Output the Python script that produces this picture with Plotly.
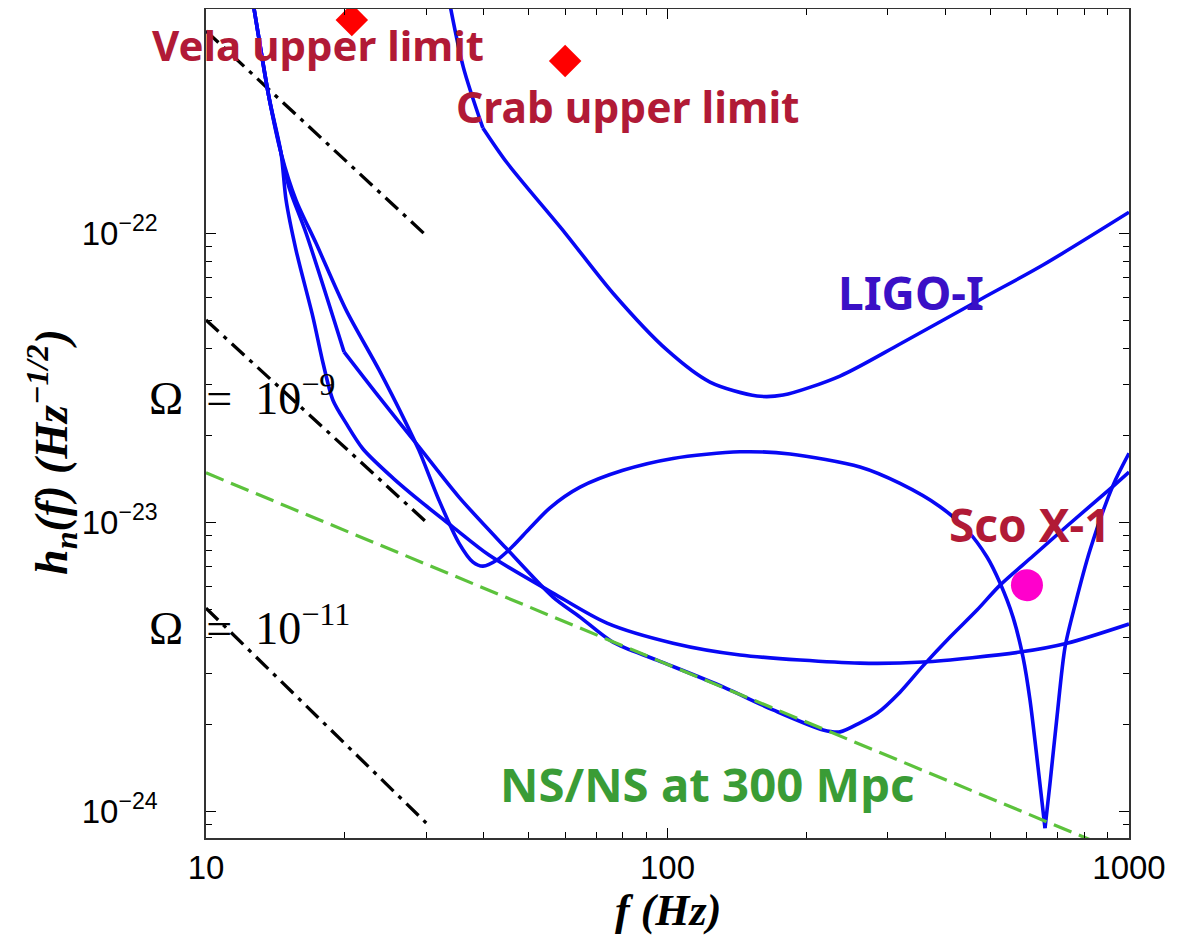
import plotly.graph_objects as go

# ---------------- data (f in Hz, h in Hz^-1/2) ----------------
omega_f = [10, 30]
omega7_h = [5.0e-22, 9.8e-23]
omega9_h = [5.0e-23, 1.0e-23]
omega11_h = [5.04e-24, 9.1e-25]

nsns_f = [10, 1000]
nsns_h = [1.48e-23, 7.0e-25]

ligo1_f = [33.4, 36.1, 39.8, 44.9, 60.0, 76.2, 99.7, 123.6, 156.3, 178.0, 236.5, 319.0, 482.6, 651.0, 1000.0]
ligo1_h = [6.76e-22, 3.75e-22, 2.31e-22, 1.75e-22, 1.0e-22, 6.19e-23, 3.94e-23, 3.05e-23, 2.73e-23, 2.75e-23,
           3.20e-23, 4.13e-23, 5.96e-23, 7.75e-23, 1.18e-22]

broad_f = [12.45, 12.71, 13.69, 14.54, 14.91, 15.67, 17.05, 17.93, 18.84, 20.11, 21.89, 25.42, 29.53, 34.29,
           41.04, 56.48, 73.94, 102.8, 143.6, 261.3, 357.8, 580.5, 734.0, 1000.0]
broad_h = [7.21e-22, 5.96e-22, 2.95e-22, 1.89e-22, 1.30e-22, 8.73e-23, 5.12e-23, 3.55e-23, 2.64e-23, 2.20e-23,
           1.79e-23, 1.42e-23, 1.16e-23, 9.61e-24, 7.69e-24, 5.68e-24, 4.47e-24, 3.81e-24, 3.47e-24, 3.25e-24,
           3.28e-24, 3.55e-24, 3.81e-24, 4.44e-24]

nsopt_f = [12.45, 12.71, 13.69, 14.54, 15.13, 16.47, 19.91, 23.71, 28.94, 35.33, 44.67, 56.48, 64.64, 76.18,
           94.89, 131.9, 169.3, 217.3, 236.5, 261.3, 284.4, 319.0, 357.8, 409.5, 468.5, 525.5, 619.5, 734.0,
           923.4, 1000.0]
nsopt_h = [7.21e-22, 5.96e-22, 2.95e-22, 1.89e-22, 1.44e-22, 1.0e-22, 3.88e-23, 2.71e-23, 1.82e-23, 1.22e-23,
           8.13e-24, 5.50e-24, 4.69e-24, 3.84e-24, 3.33e-24, 2.69e-24, 2.24e-24, 1.91e-24, 1.88e-24, 2.02e-24,
           2.18e-24, 2.58e-24, 3.18e-24, 4.0e-24, 4.96e-24, 6.05e-24, 7.63e-24, 9.69e-24, 1.33e-23, 1.49e-23]

narrow_f = [12.45, 12.71, 13.69, 14.54, 15.67, 17.31, 20.11, 23.71, 27.13, 28.94, 31.98, 35.33, 37.88, 39.83,
            42.72, 46.25, 50.35, 55.64, 64.64, 80.08, 102.8, 143.6, 184.3, 261.3, 319.0, 389.6, 445.7, 492.4,
            525.5, 560.6, 589.3, 610.3, 635.1, 657.7, 674.3, 698.2, 726.7, 763.8, 823.3, 923.4, 1000.0]
narrow_h = [7.21e-22, 5.96e-22, 2.95e-22, 1.89e-22, 1.30e-22, 9.23e-23, 5.42e-23, 3.36e-23, 2.20e-23, 1.77e-23,
            1.19e-23, 8.46e-24, 7.27e-24, 7.04e-24, 7.39e-24, 8.26e-24, 9.53e-24, 1.12e-23, 1.32e-23, 1.51e-23,
            1.66e-23, 1.75e-23, 1.72e-23, 1.55e-23, 1.36e-23, 1.13e-23, 9.38e-24, 7.57e-24, 6.15e-24, 4.69e-24,
            3.41e-24, 2.42e-24, 1.42e-24, 8.73e-25, 1.25e-24, 2.12e-24, 3.69e-24, 5.16e-24, 8.0e-24, 1.34e-23,
            1.73e-23]

pulsar_f = [20.7, 60.0]          # Vela, Crab
pulsar_h = [5.46e-22, 3.94e-22]
sco_f = [601]
sco_h = [6.05e-24]

x_major = [10, 100, 1000]
x_major_text = ["10", "100", "1000"]
x_minor = [20, 30, 40, 50, 60, 70, 80, 90, 200, 300, 400, 500, 600, 700, 800, 900]
y_major = [1e-24, 1e-23, 1e-22]
y_major_text = ["10<sup>\u221224</sup>", "10<sup>\u221223</sup>", "10<sup>\u221222</sup>"]
y_minor = [9e-25, 2e-24, 3e-24, 4e-24, 5e-24, 6e-24, 7e-24, 8e-24, 9e-24,
           2e-23, 3e-23, 4e-23, 5e-23, 6e-23, 7e-23, 8e-23, 9e-23]

# indices where a curve has a sharp corner (drawn as separate smooth pieces)
ligo1_breaks = [2]
broad_breaks = []
nsopt_breaks = [6]
narrow_breaks = [33]

# ---------------- figure ----------------
BLUE = "#0808f4"
fig = go.Figure()

for hh in (omega7_h, omega9_h, omega11_h):
    fig.add_trace(go.Scatter(x=omega_f, y=hh, mode="lines",
                             line=dict(color="black", width=3.3, dash="17px,7px,4px,7px"),
                             hoverinfo="skip"))


def add_curve(fx, hy, breaks):
    cuts = [0] + breaks + [len(fx) - 1]
    for a, b in zip(cuts[:-1], cuts[1:]):
        fig.add_trace(go.Scatter(x=fx[a:b + 1], y=hy[a:b + 1], mode="lines",
                                 line=dict(color=BLUE, width=3.6, shape="spline", smoothing=0.8)))


add_curve(ligo1_f, ligo1_h, ligo1_breaks)
add_curve(broad_f, broad_h, broad_breaks)
add_curve(nsopt_f, nsopt_h, nsopt_breaks)
add_curve(narrow_f, narrow_h, narrow_breaks)

fig.add_trace(go.Scatter(x=nsns_f, y=nsns_h, mode="lines",
                         line=dict(color="#5cc23c", width=3.2, dash="19px,8px"), hoverinfo="skip"))

fig.add_trace(go.Scatter(x=pulsar_f, y=pulsar_h, mode="markers",
                         marker=dict(symbol="diamond", size=25, color="#ff0000"), cliponaxis=False))
fig.add_trace(go.Scatter(x=sco_f, y=sco_h, mode="markers",
                         marker=dict(symbol="circle", size=32, color="#ff00cc")))

tickfont = dict(family="Liberation Sans, Arial, sans-serif", size=33, color="black")
fig.update_xaxes(type="log", range=[1, 3], tickmode="array", tickvals=x_major, ticktext=x_major_text,
                 ticks="inside", ticklen=10, tickwidth=1.2, tickcolor="black",
                 minor=dict(tickmode="array", tickvals=x_minor, ticks="inside", ticklen=6, tickwidth=1.2,
                            tickcolor="black"),
                 showline=True, linecolor="#333", linewidth=1.5, mirror="ticks", showgrid=False,
                 zeroline=False, tickfont=tickfont, ticklabelstandoff=0)
fig.update_yaxes(type="log", range=[-24.093, -21.225], tickmode="array", tickvals=y_major, ticktext=y_major_text,
                 ticks="inside", ticklen=10, tickwidth=1.2, tickcolor="black",
                 minor=dict(tickmode="array", tickvals=y_minor, ticks="inside", ticklen=6, tickwidth=1.2,
                            tickcolor="black"),
                 showline=True, linecolor="#333", linewidth=1.5, mirror="ticks", showgrid=False,
                 zeroline=False, tickfont=tickfont, ticklabelstandoff=40)

red = "#b11a36"
annots = [
    dict(text="Vela upper limit", x=0.1213, y=0.9566, color=red, size=42),
    dict(text="Crab upper limit", x=0.4572, y=0.8818, color=red, size=42.5),
    dict(text="LIGO-I", x=0.7638, y=0.6586, color="#3a10c6", size=46),
    dict(text="Sco X-1", x=0.8927, y=0.3788, color=red, size=46),
    dict(text="NS/NS at 300 Mpc", x=0.5428, y=0.0663, color="#3a9c36", size=47.3),
]
for a in annots:
    fig.add_annotation(text=a["text"], x=a["x"], y=a["y"], xref="paper", yref="paper",
                       xanchor="center", yanchor="middle", showarrow=False,
                       font=dict(family="Noto Sans, DejaVu Sans, sans-serif", size=a["size"],
                                 weight="bold", color=a["color"]))

serif = dict(family="Liberation Serif, DejaVu Serif, serif", size=46, color="black")
fig.add_annotation(text="\u03a9\u2002=\u200210<sup>\u22129</sup>", x=-0.0639, y=0.534, xref="paper",
                   yref="paper", xanchor="left", yanchor="middle", showarrow=False, font=serif)
fig.add_annotation(text="\u03a9\u2002=\u200210<sup>\u221211</sup>", x=-0.0639, y=0.257, xref="paper",
                   yref="paper", xanchor="left", yanchor="middle", showarrow=False, font=serif)

titlefont = dict(family="Liberation Serif, DejaVu Serif, serif", size=46, color="black",
                 weight="bold", style="italic")
fig.add_annotation(text="h<sub>n</sub>(f) (Hz<sup>\u22121/2</sup>)", x=-0.168, y=0.4656, xref="paper",
                   yref="paper", xanchor="center", yanchor="middle", textangle=-90, showarrow=False,
                   font=titlefont)
fig.add_annotation(text="f (Hz)", x=0.5, y=-0.0869, xref="paper", yref="paper", xanchor="center",
                   yanchor="middle", showarrow=False, font=dict(titlefont, size=44))

fig.update_layout(width=1176, height=929, margin=dict(l=198, r=55, t=1, b=99, autoexpand=False),
                  paper_bgcolor="white", plot_bgcolor="white", showlegend=False)

fig.write_html("out.html")
